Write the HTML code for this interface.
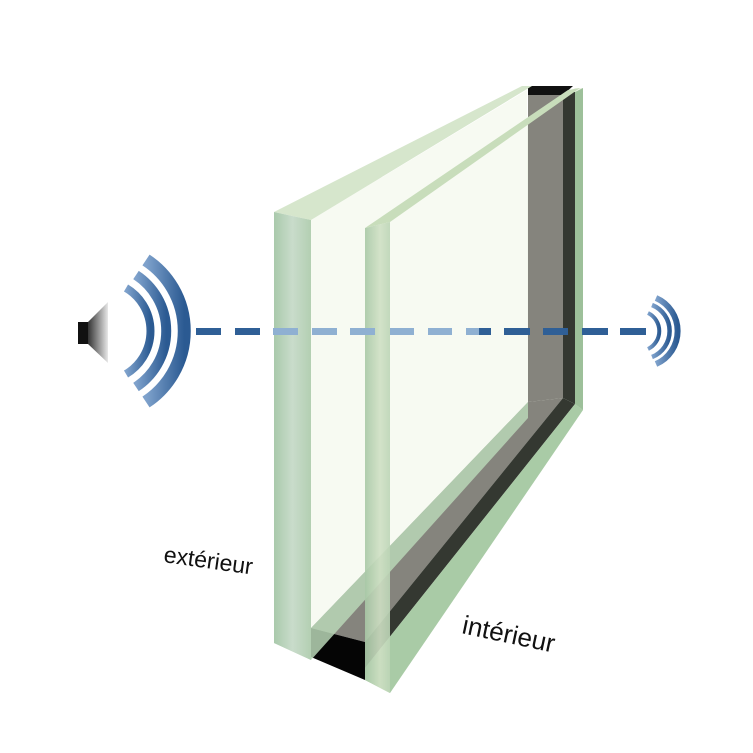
<!DOCTYPE html>
<html><head><meta charset="utf-8"><style>html,body{margin:0;padding:0;background:#fff}svg{display:block}</style></head>
<body>
<svg width="753" height="753" viewBox="0 0 753 753" xmlns="http://www.w3.org/2000/svg">
<defs>
<linearGradient id="cone" x1="0" y1="0" x2="1" y2="0"><stop offset="0" stop-color="#333"/><stop offset="1" stop-color="#e8e8e8"/></linearGradient>
<linearGradient id="wave" x1="0" y1="0" x2="1" y2="0"><stop offset="0" stop-color="#7fa2cc"/><stop offset="1" stop-color="#2b5a92"/></linearGradient>
<linearGradient id="strip1" x1="0" y1="0" x2="1" y2="0"><stop offset="0" stop-color="#a9c9ab"/><stop offset="0.5" stop-color="#c9dccb"/><stop offset="1" stop-color="#b3cfb2"/></linearGradient>
<linearGradient id="strip2" x1="0" y1="0" x2="1" y2="0"><stop offset="0" stop-color="#a8c8a6"/><stop offset="0.6" stop-color="#cfe0c4"/><stop offset="1" stop-color="#bcd5b6"/></linearGradient>
</defs>

<polygon points="365,228 575,88 583,88 583,410 390,693 365,680" fill="#eef4e8"/>
<polygon points="528,92 563,92 563,398 528,402" fill="#85847d"/>
<polygon points="563,92 575,92 575,404 563,398" fill="#343831"/>
<polygon points="528,86 573,86 563,95 528,95" fill="#111"/>
<polygon points="528,402 563,398 365,642 311,628" fill="#85847d"/>
<polygon points="563,398 575,404 365,668 365,642" fill="#343831"/>
<polygon points="311,628 365,642 365,680 311,657" fill="#050505"/>
<polygon points="575,404 583,410 390,693 365,680 365,668" fill="#a9cba6"/>
<polygon points="575,92 583,88 583,410 575,404" fill="#9dc09a"/>
<polygon points="311,220 527,90 528,402 311,628" fill="#f7faf2"/>
<polygon points="274,643 311,628 528,402 528,418 311,660" fill="#b9d6b6" opacity="0.85"/>
<polygon points="274,212 522,86 532,86 311,220" fill="#d6e6cc"/>
<polygon points="365,228 390,222 390,693 365,680" fill="url(#strip2)" opacity="0.9"/>
<polygon points="365,228 568,90 580,88 390,222" fill="#c8ddbb"/>
<polygon points="274,212 311,220 311,660 274,643" fill="url(#strip1)"/>

<g fill="#2f5f96">
<rect x="196" y="328" width="25" height="7"/><rect x="235" y="328" width="25" height="7"/>
<rect x="479" y="328" width="12" height="7"/>
<rect x="504" y="328" width="26" height="7"/><rect x="543" y="328" width="25" height="7"/>
<rect x="582" y="328" width="26" height="7"/><rect x="620" y="328" width="26" height="7"/>
</g>
<g fill="#8fb0d2">
<rect x="273" y="328" width="25" height="7"/><rect x="312" y="328" width="25" height="7"/>
<rect x="350" y="328" width="25" height="7"/><rect x="390" y="328" width="24" height="7"/>
<rect x="428" y="328" width="24" height="7"/><rect x="466" y="328" width="13" height="7"/>
</g>

<rect x="78" y="322" width="10" height="22" fill="#111"/>
<polygon points="88,322 108,302 108,363 88,344" fill="url(#cone)"/>
<g fill="none" stroke="url(#wave)">
<path d="M 126 288 A 50 50 0 0 1 126 374" stroke-width="8"/>
<path d="M 136 275 A 67 67 0 0 1 136 387" stroke-width="10"/>
<path d="M 146 260 A 85 85 0 0 1 146 402" stroke-width="13"/>
</g>
<g fill="none" stroke="url(#wave)">
<path d="M 648 313 A 20 20 0 0 1 648 349" stroke-width="4"/>
<path d="M 652 305 A 28 28 0 0 1 652 357" stroke-width="4.5"/>
<path d="M 656 298 A 36 36 0 0 1 656 364" stroke-width="6"/>
</g>

<text x="163" y="562" font-family="Liberation Sans, sans-serif" font-size="23" fill="#111" transform="rotate(8 163 562)">extérieur</text>
<text x="461" y="633" font-family="Liberation Sans, sans-serif" font-size="26" fill="#111" transform="rotate(12 461 633)">intérieur</text>
</svg>
</body></html>
